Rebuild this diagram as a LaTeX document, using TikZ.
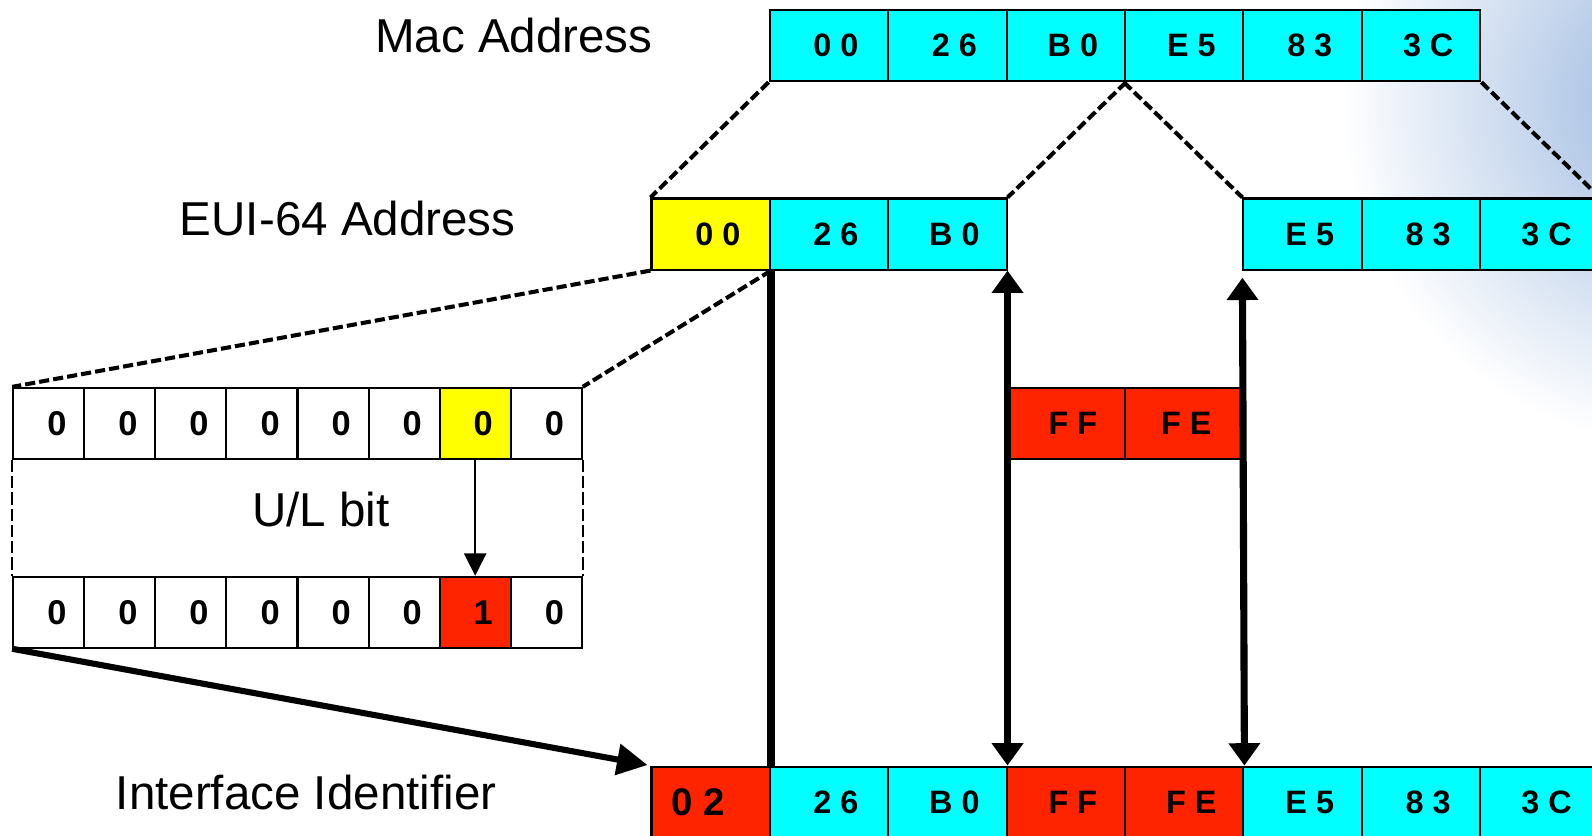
\documentclass[tikz,border=0pt]{standalone}
\usepackage{fontspec}
\setmainfont{Liberation Sans}
\usetikzlibrary{arrows.meta}
\definecolor{cy}{HTML}{00FFFF}
\definecolor{yl}{HTML}{FFFF00}
\definecolor{rd}{HTML}{FF2400}
\definecolor{glow}{RGB}{150,180,222}
\newcommand{\sh}[1]{\hspace*{14bp}#1}
\newcommand{\bsh}[1]{\hspace*{16bp}#1}
\begin{document}
\begin{tikzpicture}[x=1bp,y=-1bp,
  cell/.style={draw=black, line width=2bp, minimum width=116.67bp, minimum height=70bp, inner sep=0pt, font=\fontsize{32}{32}\selectfont\bfseries},
  bitcell/.style={cell, minimum width=70bp, font=\fontsize{34}{34}\selectfont\bfseries},
  lbl/.style={anchor=base, inner sep=0pt, font=\fontsize{47}{50}\selectfont},
  dashconn/.style={line width=4bp, dash pattern=on 10bp off 4bp},
  dashside/.style={line width=2.5bp, dash pattern=on 12bp off 4bp},
  thick line/.style={line width=7bp},
  dblarrow/.style={line width=7bp, {Triangle[width=30bp,length=22bp]}-{Triangle[width=30bp,length=22bp]}},
  bigarrow/.style={line width=6bp, -{Triangle[width=30bp,length=30bp]}},
  thinarrow/.style={line width=1.5bp, -{Triangle[width=22bp,length=22bp]}}
]
\useasboundingbox (0,0) rectangle (1568,823);
\begin{scope}
  \clip (0,0) rectangle (1568,823);
  \shade[inner color=glow, outer color=white] (1660,100) circle (340);
\end{scope}

% labels
\node[lbl] (lmac) at (506,52) {Mac Address};
\node[lbl] (leui) at (342.5,232) {EUI-64 Address};
\node[lbl] (lif) at (301.5,797) {Interface Identifier};

% Mac address row
\node[cell, fill=cy] (m1) at (816.33,45) {\sh{0 0}};
\node[cell, fill=cy] (m2) at (933,45) {\sh{2 6}};
\node[cell, fill=cy] (m3) at (1049.67,45) {\sh{B 0}};
\node[cell, fill=cy] (m4) at (1166.33,45) {\sh{E 5}};
\node[cell, fill=cy] (m5) at (1283,45) {\sh{8 3}};
\node[cell, fill=cy] (m6) at (1399.67,45) {\sh{3 C}};

% EUI-64 row
\node[cell, fill=yl] (e1) at (700,230.5) {\sh{0 0}};
\node[cell, fill=cy] (e2) at (816.33,230.5) {\sh{2 6}};
\node[cell, fill=cy] (e3) at (933,230.5) {\sh{B 0}};
\node[cell, fill=cy] (e4) at (1283,230.5) {\sh{E 5}};
\node[cell, fill=cy] (e5) at (1399.67,230.5) {\sh{8 3}};
\node[cell, fill=cy] (e6) at (1516.33,230.5) {\sh{3 C}};

% FF FE insert
\node[cell, fill=rd] (f1) at (1049.67,417) {\sh{F F}};
\node[cell, fill=rd] (f2) at (1166.33,417) {\hspace*{4bp}F E};

% Interface identifier row
\node[cell, fill=rd, font=\fontsize{38}{38}\selectfont\bfseries] (i1) at (700,790) {0 2\hspace*{24bp}};
\node[cell, fill=cy] (i2) at (816.33,790) {\sh{2 6}};
\node[cell, fill=cy] (i3) at (933,790) {\sh{B 0}};
\node[cell, fill=rd] (i4) at (1049.67,790) {\sh{F F}};
\node[cell, fill=rd] (i5) at (1166.33,790) {\sh{F E}};
\node[cell, fill=cy] (i6) at (1283,790) {\sh{E 5}};
\node[cell, fill=cy] (i7) at (1399.67,790) {\sh{8 3}};
\node[cell, fill=cy] (i8) at (1516.33,790) {\sh{3 C}};

% bit rows
\foreach \k/\v/\c in {1/0/white,2/0/white,3/0/white,4/0/white,5/0/white,6/0/white,7/0/yl,8/0/white}{
  \node[bitcell, fill=\c] (b\k) at ({48+70*(\k-1)},417) {\bsh{\v}};
}
\foreach \k/\v/\c in {1/0/white,2/0/white,3/0/white,4/0/white,5/0/white,6/0/white,7/1/rd,8/0/white}{
  \node[bitcell, fill=\c] (c\k) at ({48+70*(\k-1)},603) {\bsh{\v}};
}
\node[lbl] (lul) at (316,519) {U/L bit};

% dashed expansions
\draw[dashconn] (m1.south west) -- (e1.north west);
\draw[dashconn] (m3.south east) -- (e3.north east);
\draw[dashconn] (m4.south west) -- (e4.north west);
\draw[dashconn] (m6.south east) -- (e6.north east);
\draw[dashconn] (e1.south west) -- (b1.north west);
\draw[dashconn] (e1.south east) -- (b8.north east);
\draw[dashside] (b1.south west) -- (c1.north west);
\draw[dashside] (b8.south east) -- (c8.north east);

% U/L arrow
\draw[thinarrow] (b7.south) -- (c7.north);

% vertical connectors
\draw[thick line] (e1.south east) -- (i1.north east);
\draw[dblarrow] (e3.south east) -- (i3.north east);
\draw[dblarrow, shorten <=7bp] (e4.south west) -- (i5.north east);

% arrow to interface identifier
\draw[bigarrow, shorten >=3bp] (c1.south west) -- (i1.north west);
\end{tikzpicture}
\end{document}
